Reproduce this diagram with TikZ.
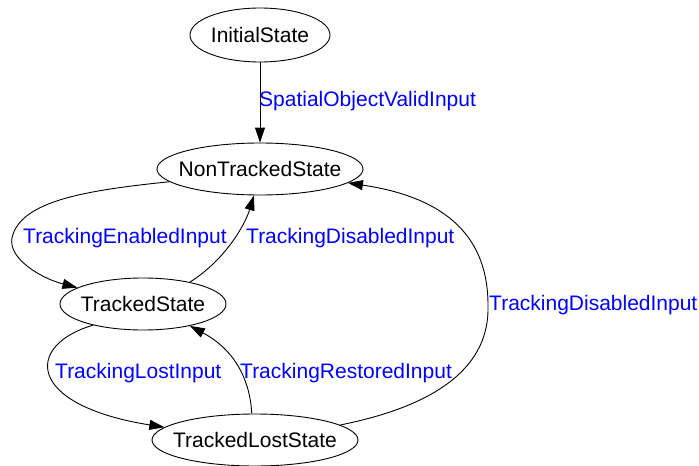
\documentclass[tikz,border=0pt]{standalone}
\usepackage{fontspec}
\setmainfont{Liberation Sans}
\usetikzlibrary{shapes.geometric,arrows.meta}
\newcommand{\stname}[1]{\makebox[0pt]{#1}}
\begin{document}
\begin{tikzpicture}[x=1pt, y=-1pt, >={Triangle[length=15pt,width=10pt]},
    every node/.style={font=\fontsize{21}{24}\selectfont},
    state/.style={ellipse, draw, line width=0.9pt, inner sep=0pt, minimum height=52pt},
    trans/.style={->, line width=0.9pt},
    lbl/.style={anchor=west, inner sep=0pt, text=blue}]
  \useasboundingbox (0,0) rectangle (699,466);

  % states
  \node[state, minimum width=140pt, minimum height=54pt] (init) at (260,35) {\stname{InitialState}};
  \node[state, minimum width=206pt] (nontr) at (260,169) {\stname{NonTrackedState}};
  \node[state, minimum width=166pt] (tracked) at (143,304) {\stname{TrackedState}};
  \node[state, minimum width=206pt] (lost) at (255,440) {\stname{TrackedLostState}};

  % transitions
  \draw[trans] (init) -- (nontr);
  \node[lbl] (lvalid) at (259,101) {SpatialObjectValidInput};

  \draw[trans] (nontr.188) .. controls (90,190) and (20,200) .. (12,238)
    .. controls (8,258) and (40,278) .. (tracked.166);
  \node[lbl] (lenabled) at (23,238) {TrackingEnabledInput};

  \draw[trans] (tracked.25) .. controls (225,260) and (245,225) .. (nontr.257);
  \node[lbl] (ldisabled) at (246,238) {TrackingDisabledInput};

  \draw[trans] (tracked.203) .. controls (25,345) and (25,405) .. (lost.172);
  \node[lbl] (llost) at (55,373) {TrackingLostInput};

  \draw[trans] (lost.97) .. controls (250,380) and (235,350) .. (tracked.335);
  \node[lbl] (lrestored) at (240,373) {TrackingRestoredInput};

  \draw[trans] (lost.10) .. controls (440,405) and (490,365) .. (488,305)
    .. controls (488,240) and (450,198) .. (nontr.-9);
  \node[lbl] (ldisabledb) at (489,305) {TrackingDisabledInput};
\end{tikzpicture}
\end{document}
